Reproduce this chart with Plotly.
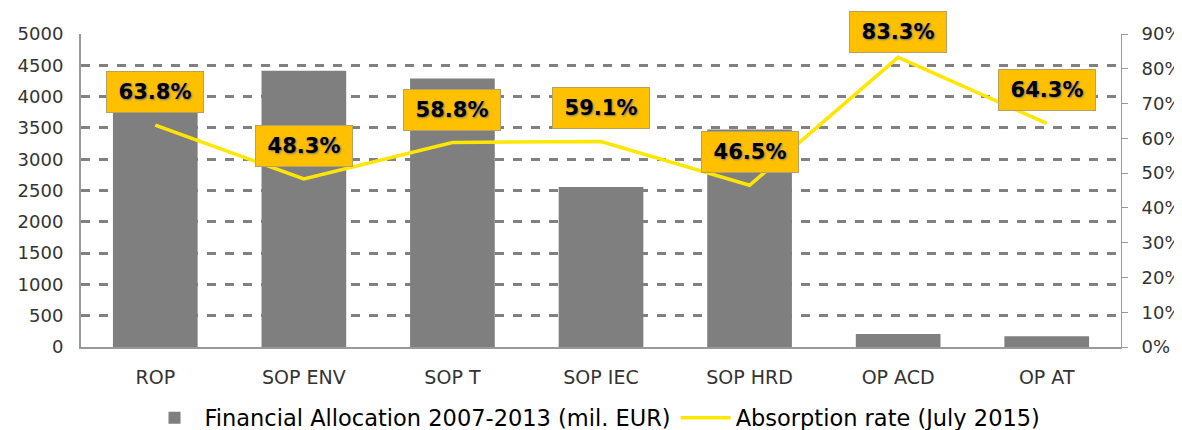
import plotly.graph_objects as go

categories = ["ROP", "SOP ENV", "SOP T", "SOP IEC", "SOP HRD", "OP ACD", "OP AT"]
allocation = [3966, 4412, 4288, 2554, 3476, 208, 170]
absorption = [63.8, 48.3, 58.8, 59.1, 46.5, 83.3, 64.3]
left_ticks = list(range(0, 5001, 500))
right_ticks = list(range(0, 91, 10))
right_tick_text = [f"{v}%" for v in right_ticks]

# page has an 8px body margin, so the figure is 8px smaller than the window
W, H = 1174, 422
M = dict(l=73, r=61, t=26, b=83, autoexpand=False)
plot_h = H - M["t"] - M["b"]

fig = go.Figure()
fig.add_trace(go.Bar(
    x=categories, y=allocation, name="Financial Allocation 2007-2013 (mil. EUR)",
    marker=dict(color="#7f7f7f", line=dict(width=0)), yaxis="y",
))
fig.add_trace(go.Scatter(
    x=categories, y=absorption, name="Absorption rate (July 2015)",
    mode="lines", line=dict(color="#FFE600", width=3.5), yaxis="y2",
))

for c, v in zip(categories, absorption):
    py = plot_h * (1 - v / 90)  # pixel from plot top
    shift = 33
    top_px = M["t"] + py - shift - 21
    if top_px < 3:
        shift -= (3 - top_px)
    fig.add_annotation(
        x=c, y=v, xref="x", yref="y2", text=f"{v:.1f}%", showarrow=False,
        yshift=shift, bgcolor="#FFC000", bordercolor="#B8A060", borderwidth=1,
        borderpad=6, width=84, height=28,
        font=dict(family="DejaVu Sans", size=21, color="#000000", weight="bold",
                  shadow="1px 1px 2px #777"),
    )

fig.update_layout(
    width=W, height=H, margin=M, paper_bgcolor="white", plot_bgcolor="white",
    bargap=0.43, showlegend=True,
    font=dict(family="DejaVu Sans", size=15, color="#333333"),
    xaxis=dict(showline=True, linecolor="#999999", linewidth=2, ticks="",
               tickfont=dict(size=19, color="#333333"), ticklabelstandoff=12,
               automargin=False),
    yaxis=dict(range=[0, 5000], tickvals=left_ticks, showgrid=True,
               gridcolor="#808080", gridwidth=3, griddash="dash",
               showline=True, linecolor="#999999", linewidth=2, ticks="",
               zeroline=False, tickfont=dict(size=18, color="#333333"),
               ticklabelstandoff=12, automargin=False),
    yaxis2=dict(range=[0, 90], tickvals=right_ticks, ticktext=right_tick_text,
                overlaying="y", side="right", showgrid=False, zeroline=False,
                showline=True, linecolor="#999999", linewidth=1,
                ticks="outside", ticklen=6, tickcolor="#999999",
                tickfont=dict(size=18, color="#333333"), ticklabelstandoff=10,
                automargin=False),
    legend=dict(orientation="h", x=0.5, xanchor="center", xref="container",
                y=-0.227, yanchor="middle", yref="paper",
                font=dict(size=22.5, color="#000000"), itemwidth=50,
                traceorder="normal"),
)

fig.write_html("out.html")
